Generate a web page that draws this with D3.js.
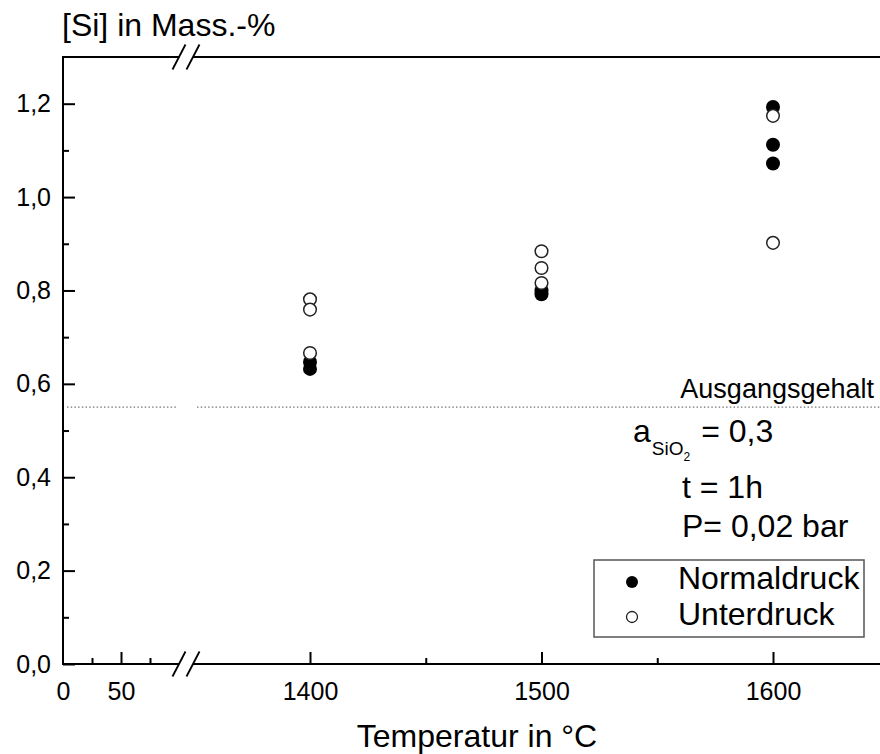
<!DOCTYPE html>
<html>
<head>
<meta charset="utf-8">
<script src="https://cdn.jsdelivr.net/npm/d3@7"></script>
<style>
  html, body { margin: 0; padding: 0; background: #fff; }
  svg { display: block; font-family: "Liberation Sans", Arial, sans-serif; }
</style>
</head>
<body>
<svg id="chart" width="880" height="754"></svg>
<script>
// Silicon content of the melt after 1 h, normal pressure vs. reduced pressure
const normTemp = [1400, 1400, 1500, 1500, 1600, 1600, 1600];
const normSi   = [0.647, 0.632, 0.800, 0.792, 1.193, 1.112, 1.072];
const unterTemp = [1400, 1400, 1400, 1500, 1500, 1500, 1600, 1600];
const unterSi   = [0.781, 0.759, 0.666, 0.884, 0.848, 0.816, 1.174, 0.902];

const startValue = 0.55;               // Ausgangsgehalt
const yMajor = [0, 0.2, 0.4, 0.6, 0.8, 1.0, 1.2];
const yMinor = [0.1, 0.3, 0.5, 0.7, 0.9, 1.1];
const xLowMajor = [0, 50];
const xLowMinor = [25, 75];
const xHighMajor = [1400, 1500, 1600];
const xHighMinor = [1450, 1550];

const svg = d3.select("#chart");
const plotLeft = 63, plotBottom = 664, plotTop = 57, plotRight = 880;
const breakA = 179, breakB = 193;

// broken x axis: two linear segments
const xLow = d3.scaleLinear().domain([0, 100]).range([63, 179]);
const xHigh = d3.scaleLinear().domain([1400, 1600]).range([310, 773]);
const y = d3.scaleLinear().domain([0, 1.3]).range([plotBottom, plotTop]);
const fmt = v => d3.format(".1f")(v).replace(".", ",");

const axisW = 2;
const g = svg.append("g");

// start-content reference line (dotted, interrupted at the break)
[[67, breakA - 1], [breakB + 4, plotRight]].forEach(([a, b]) => {
  g.append("line")
    .attr("x1", a).attr("x2", b)
    .attr("y1", y(startValue)).attr("y2", y(startValue))
    .attr("stroke", "#777").attr("stroke-width", 1.2)
    .attr("stroke-dasharray", "1.5,2.2");
});
g.append("text")
  .attr("x", 874).attr("y", y(startValue) - 9)
  .attr("text-anchor", "end").attr("font-size", 27)
  .text("Ausgangsgehalt");

// axis frame lines
g.append("line").attr("x1", plotLeft).attr("x2", plotLeft)
  .attr("y1", plotTop - 1).attr("y2", plotBottom + 1)
  .attr("stroke", "#000").attr("stroke-width", axisW);
[plotBottom, plotTop].forEach(yy => {
  [[plotLeft, breakA], [breakB, plotRight]].forEach(([a, b]) => {
    g.append("line").attr("x1", a).attr("x2", b)
      .attr("y1", yy).attr("y2", yy)
      .attr("stroke", "#000").attr("stroke-width", axisW);
  });
  // break marks
  [breakA, breakB].forEach(bx => {
    g.append("line")
      .attr("x1", bx - 6.5).attr("y1", yy + 12.5)
      .attr("x2", bx + 6.5).attr("y2", yy - 12.5)
      .attr("stroke", "#000").attr("stroke-width", 1.8);
  });
});

// y ticks (inward) and labels
const yAxis = d3.axisLeft(y).tickValues(yMajor).tickSize(-12).tickFormat(fmt).tickPadding(12);
const ya = g.append("g").attr("transform", `translate(${plotLeft},0)`).call(yAxis);
ya.select(".domain").remove();
ya.selectAll(".tick line").attr("stroke-width", axisW);
ya.selectAll(".tick text").attr("font-size", 25).attr("fill", "#000")
  .attr("font-family", "Liberation Sans, Arial, sans-serif");
const yMin = d3.axisLeft(y).tickValues(yMinor).tickSize(-6).tickFormat("");
const ym = g.append("g").attr("transform", `translate(${plotLeft},0)`).call(yMin);
ym.select(".domain").remove();
ym.selectAll(".tick line").attr("stroke-width", axisW);

// x ticks for both segments
function xTicks(scale, major, minor) {
  const a = d3.axisBottom(scale).tickValues(major).tickSize(-12).tickPadding(18)
    .tickFormat(d3.format("d"));
  const ga = g.append("g").attr("transform", `translate(0,${plotBottom})`).call(a);
  ga.select(".domain").remove();
  ga.selectAll(".tick line").attr("stroke-width", axisW)
    .attr("display", d => d === 0 ? "none" : null);
  ga.selectAll(".tick text").attr("font-size", 25).attr("fill", "#000")
    .attr("font-family", "Liberation Sans, Arial, sans-serif");
  const m = d3.axisBottom(scale).tickValues(minor).tickSize(-6).tickFormat("");
  const gm = g.append("g").attr("transform", `translate(0,${plotBottom})`).call(m);
  gm.select(".domain").remove();
  gm.selectAll(".tick line").attr("stroke-width", axisW);
}
xTicks(xLow, xLowMajor, xLowMinor);
xTicks(xHigh, xHighMajor, xHighMinor);

// axis titles
g.append("text").attr("x", 62).attr("y", 36)
  .attr("font-size", 32).text("[Si] in Mass.-%");
g.append("text").attr("x", 477).attr("y", 747)
  .attr("text-anchor", "middle").attr("font-size", 32).text("Temperatur in °C");

// data points: filled = Normaldruck, open = Unterdruck (drawn on top)
const r = 7;
g.append("g").selectAll("circle").data(normTemp.map((t, i) => [t, normSi[i]]))
  .join("circle")
  .attr("cx", d => xHigh(d[0])).attr("cy", d => y(d[1])).attr("r", r)
  .attr("fill", "#000");
g.append("g").selectAll("circle").data(unterTemp.map((t, i) => [t, unterSi[i]]))
  .join("circle")
  .attr("cx", d => xHigh(d[0])).attr("cy", d => y(d[1])).attr("r", r - 0.7)
  .attr("fill", "#fff").attr("stroke", "#222").attr("stroke-width", 1.5);

// experimental conditions
const cond = g.append("g").attr("font-size", 32);
const a = cond.append("text").attr("x", 633).attr("y", 442);
a.append("tspan").text("a");
a.append("tspan").attr("font-size", 19).attr("dy", 13).attr("dx", 1).text("SiO");
a.append("tspan").attr("font-size", 12).attr("dy", 6).text("2");
a.append("tspan").attr("dy", -19).attr("dx", 11).text("= 0,3");
cond.append("text").attr("x", 682).attr("y", 498).text("t = 1h");
cond.append("text").attr("x", 682).attr("y", 537).text("P= 0,02 bar");

// legend
const lg = g.append("g");
lg.append("rect").attr("x", 594).attr("y", 560).attr("width", 270).attr("height", 77)
  .attr("fill", "#fff").attr("stroke", "#555").attr("stroke-width", 1.5);
lg.append("circle").attr("cx", 632).attr("cy", 582).attr("r", 6).attr("fill", "#000");
lg.append("circle").attr("cx", 632).attr("cy", 617).attr("r", 5.5)
  .attr("fill", "#fff").attr("stroke", "#222").attr("stroke-width", 1.3);
lg.append("text").attr("x", 678).attr("y", 589).attr("font-size", 32).text("Normaldruck");
lg.append("text").attr("x", 678).attr("y", 625).attr("font-size", 32).text("Unterdruck");
</script>
</body>
</html>
